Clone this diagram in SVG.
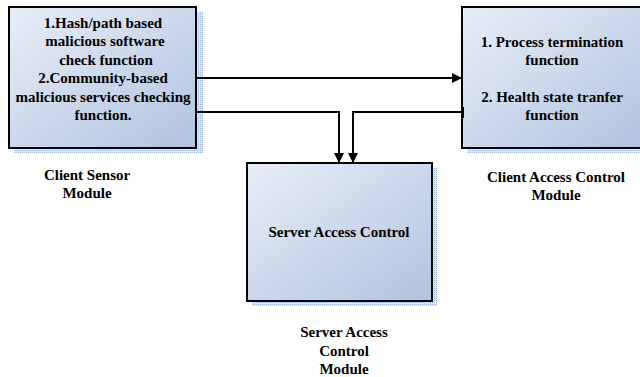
<svg xmlns="http://www.w3.org/2000/svg" width="640" height="377" viewBox="0 0 640 377">
<style>
.box{stroke:#000;stroke-width:2;fill:url(#g)}
.sh{fill:url(#dots)}
.t{font-family:"Liberation Serif","Times New Roman",serif;font-weight:bold;font-size:15px;fill:#000;text-anchor:middle}
.c{fill:none;stroke:#000;stroke-width:2}
</style>
<defs>
<linearGradient id="g" x1="0" y1="0" x2="1" y2="1">
<stop offset="0" stop-color="#e8eef8"/>
<stop offset="1" stop-color="#b0c3df"/>
</linearGradient>
<pattern id="dots" width="2" height="2" patternUnits="userSpaceOnUse">
<rect width="2" height="2" fill="#dfe8f6"/>
<rect width="1" height="1" fill="#9bb5dd"/>
</pattern>
<marker id="a" markerWidth="10" markerHeight="10" refX="9" refY="5" orient="auto" markerUnits="userSpaceOnUse">
<path d="M0,0 L10,5 L0,10 Z" fill="#000"/>
</marker>
</defs>
<g id="client-sensor">
<rect class="sh" x="14" y="12" width="189" height="141"/>
<rect class="box" x="9" y="7" width="187" height="141"/>
<text class="t" x="103" y="28">1.Hash/path based</text>
<text class="t" x="105" y="46">malicious software</text>
<text class="t" x="106" y="65">check function</text>
<text class="t" x="103" y="83">2.Community-based</text>
<text class="t" x="103" y="102">malicious services checking</text>
<text class="t" x="103" y="120">function.</text>
</g>
<g id="client-access">
<rect class="sh" x="467" y="12" width="180" height="141"/>
<rect class="box" x="462" y="7" width="184" height="141"/>
<text class="t" x="552" y="47">1. Process termination</text>
<text class="t" x="552" y="65">function</text>
<text class="t" x="552" y="102">2. Health state tranfer</text>
<text class="t" x="552" y="120">function</text>
</g>
<g id="server-access">
<rect class="sh" x="252" y="168" width="185" height="138"/>
<rect class="box" x="247" y="163" width="185" height="138"/>
<text class="t" x="339" y="237">Server Access Control</text>
</g>
<g id="labels">
<text class="t" x="87" y="180">Client Sensor</text>
<text class="t" x="87" y="198">Module</text>
<text class="t" x="556" y="182">Client Access Control</text>
<text class="t" x="556" y="200">Module</text>
<text class="t" x="344" y="337">Server Access</text>
<text class="t" x="344" y="356">Control</text>
<text class="t" x="344" y="374">Module</text>
</g>
<g id="connectors">
<path class="c" d="M196,78 H461" marker-end="url(#a)"/>
<path class="c" d="M196,112 H339 V162" marker-end="url(#a)"/>
<path class="c" d="M462,112 H353 V162" marker-end="url(#a)"/>
<path class="c" d="M463,107 V118"/>
</g>
</svg>
